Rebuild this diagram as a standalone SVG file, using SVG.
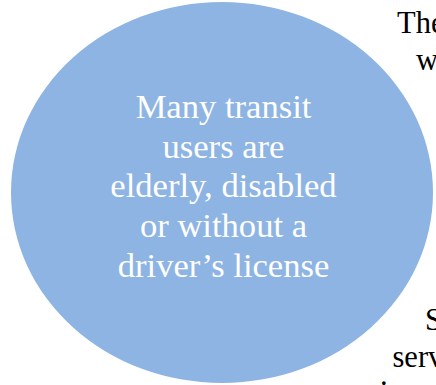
<svg xmlns="http://www.w3.org/2000/svg" width="436" height="385" viewBox="0 0 436 385">
<style>
.circle{fill:#8EB4E3;}
.inner{font-family:"Liberation Serif","Times New Roman",serif;font-size:34.6px;fill:#ffffff;text-anchor:middle;}
.outer{font-family:"Liberation Serif","Times New Roman",serif;font-size:30.5px;fill:#000000;}
</style>
<rect width="436" height="385" fill="#ffffff"/>
<g id="connectors"></g>
<g id="node-transit-users">
<ellipse class="circle" cx="222" cy="192.5" rx="211" ry="190.5"/>
<text class="inner" x="223.5" y="117.5">Many transit</text>
<text class="inner" x="223.5" y="157.5">users are</text>
<text class="inner" x="223.5" y="197">elderly, disabled</text>
<text class="inner" x="223.5" y="237">or without a</text>
<text class="inner" x="223.5" y="277">driver’s license</text>
</g>
<g id="node-right-top">
<text class="outer" x="397" y="33.3">The</text>
<text class="outer" x="416" y="70">w</text>
</g>
<g id="node-right-bottom">
<text class="outer" x="425" y="330">S</text>
<text class="outer" x="392.5" y="366.5">serv</text>
<text class="outer" x="380" y="385">.</text>
</g>
</svg>
